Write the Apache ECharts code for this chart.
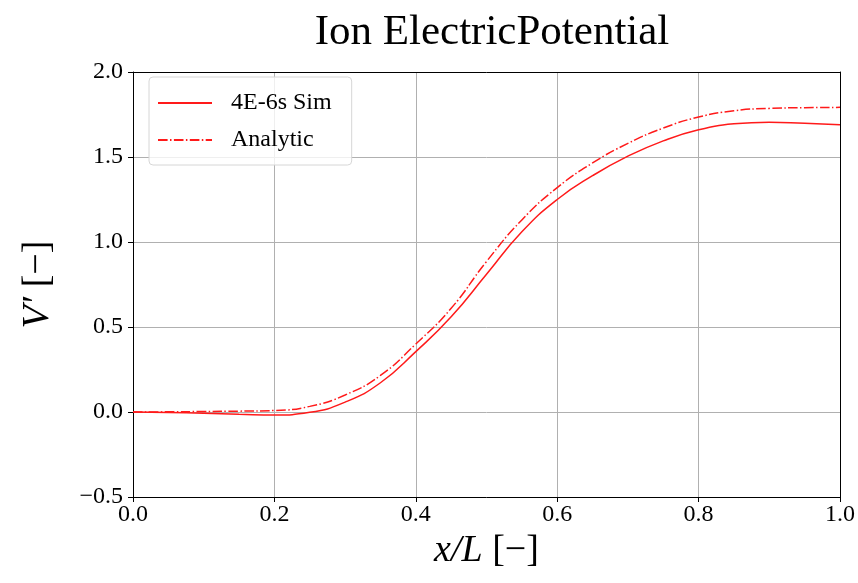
<!DOCTYPE html>
<html>
<head>
<meta charset="utf-8">
<script src="https://cdn.jsdelivr.net/npm/echarts@6/dist/echarts.min.js"></script>
<style>
  html, body { margin: 0; padding: 0; background: #fff; }
  #chart { width: 858px; height: 583px; }
</style>
</head>
<body>
<div id="chart"></div>
<script>
const xPos = [0, 0.05, 0.1, 0.15, 0.2, 0.25, 0.3, 0.35, 0.4, 0.45, 0.5,
  0.55, 0.6, 0.65, 0.7, 0.75, 0.8, 0.85, 0.9, 0.95, 1.0]
const simValues = [0, -0.003, -0.007, -0.013, -0.018, -0.002, 0.058, 0.172, 0.355, 0.56, 0.81,
  1.06, 1.25, 1.39, 1.505, 1.595, 1.66, 1.695, 1.705, 1.698, 1.69]
const analyticValues = [0, 0.001, 0.003, 0.005, 0.009, 0.033, 0.10, 0.215, 0.40, 0.61, 0.885,
  1.13, 1.32, 1.465, 1.58, 1.67, 1.735, 1.772, 1.786, 1.79, 1.792]
const seriesNames = ['4E-6s Sim', 'Analytic']

const serif = '"Liberation Serif", "DejaVu Serif", serif'

const pairs = (ys) => xPos.map((x, i) => [x, ys[i]])
const fmt = (v) => (v < 0 ? '\u2212' + Math.abs(v).toFixed(1) : v.toFixed(1))

const Chart = echarts.init(document.getElementById('chart'))

const options = {
  animation: false,
  title: {
    text: 'Ion ElectricPotential',
    left: 487,
    textAlign: 'center',
    top: 6,
    textStyle: { fontFamily: serif, fontSize: 43, fontWeight: 'normal', color: '#000' }
  },
  grid: { left: 133, right: 16, top: 72, bottom: 86 },
  legend: {
    orient: 'vertical',
    left: 149,
    top: 77,
    padding: [14, 20, 13, 8],
    itemGap: 13,
    itemWidth: 54,
    itemHeight: 14,
    borderColor: '#d6d6d6',
    borderWidth: 1,
    borderRadius: 4,
    backgroundColor: 'rgba(255,255,255,0.8)',
    itemStyle: { opacity: 0 },
    data: seriesNames,
    textStyle: { fontFamily: serif, fontSize: 24, color: '#000', padding: [0, 0, 0, 14] }
  },
  xAxis: [
    {
      type: 'value',
      min: 0,
      max: 1,
      interval: 0.2,
      name: '{i|x/L} [\u2212]',
      nameLocation: 'middle',
      nameGap: 34,
      nameTextStyle: {
        fontFamily: serif, fontSize: 38, color: '#000',
        rich: { i: { fontFamily: serif, fontSize: 38, fontStyle: 'italic', color: '#000' } }
      },
      axisLine: { show: true, onZero: false, lineStyle: { color: '#000', width: 1 } },
      axisTick: { show: true, length: 5, lineStyle: { color: '#000' } },
      axisLabel: { fontFamily: serif, fontSize: 24, color: '#000', margin: 6, formatter: fmt },
      splitLine: { show: true, lineStyle: { color: '#b0b0b0', width: 1 } }
    },
    {
      type: 'value',
      position: 'top',
      min: 0,
      max: 1,
      axisLine: { show: true, onZero: false, lineStyle: { color: '#000', width: 1 } },
      axisTick: { show: false },
      axisLabel: { show: false },
      splitLine: { show: false }
    }
  ],
  yAxis: [
    {
      type: 'value',
      min: -0.5,
      max: 2.0,
      interval: 0.5,
      name: '{i|V\u2032} [\u2212]',
      nameLocation: 'middle',
      nameGap: 76,
      nameTextStyle: {
        fontFamily: serif, fontSize: 38, color: '#000',
        rich: { i: { fontFamily: serif, fontSize: 38, fontStyle: 'italic', color: '#000' } }
      },
      axisLine: { show: true, onZero: false, lineStyle: { color: '#000', width: 1 } },
      axisTick: { show: true, length: 5, lineStyle: { color: '#000' } },
      axisLabel: { fontFamily: serif, fontSize: 24, color: '#000', margin: 10, formatter: fmt },
      splitLine: { show: true, lineStyle: { color: '#b0b0b0', width: 1 } }
    },
    {
      type: 'value',
      position: 'right',
      min: -0.5,
      max: 2.0,
      axisLine: { show: true, onZero: false, lineStyle: { color: '#000', width: 1 } },
      axisTick: { show: false },
      axisLabel: { show: false },
      splitLine: { show: false }
    }
  ],
  series: [
    {
      name: seriesNames[0],
      type: 'line',
      data: pairs(simValues),
      smooth: 0.5,
      showSymbol: false,
      symbol: 'none',
      lineStyle: { color: '#ff1a1a', width: 1.5 },
      itemStyle: { color: '#ff1a1a' }
    },
    {
      name: seriesNames[1],
      type: 'line',
      data: pairs(analyticValues),
      smooth: 0.5,
      showSymbol: false,
      symbol: 'none',
      lineStyle: { color: '#ff1a1a', width: 1.5, type: [9.6, 2.4, 1.5, 2.4] },
      itemStyle: { color: '#ff1a1a' }
    }
  ]
}

Chart.setOption(options)
</script>
</body>
</html>
